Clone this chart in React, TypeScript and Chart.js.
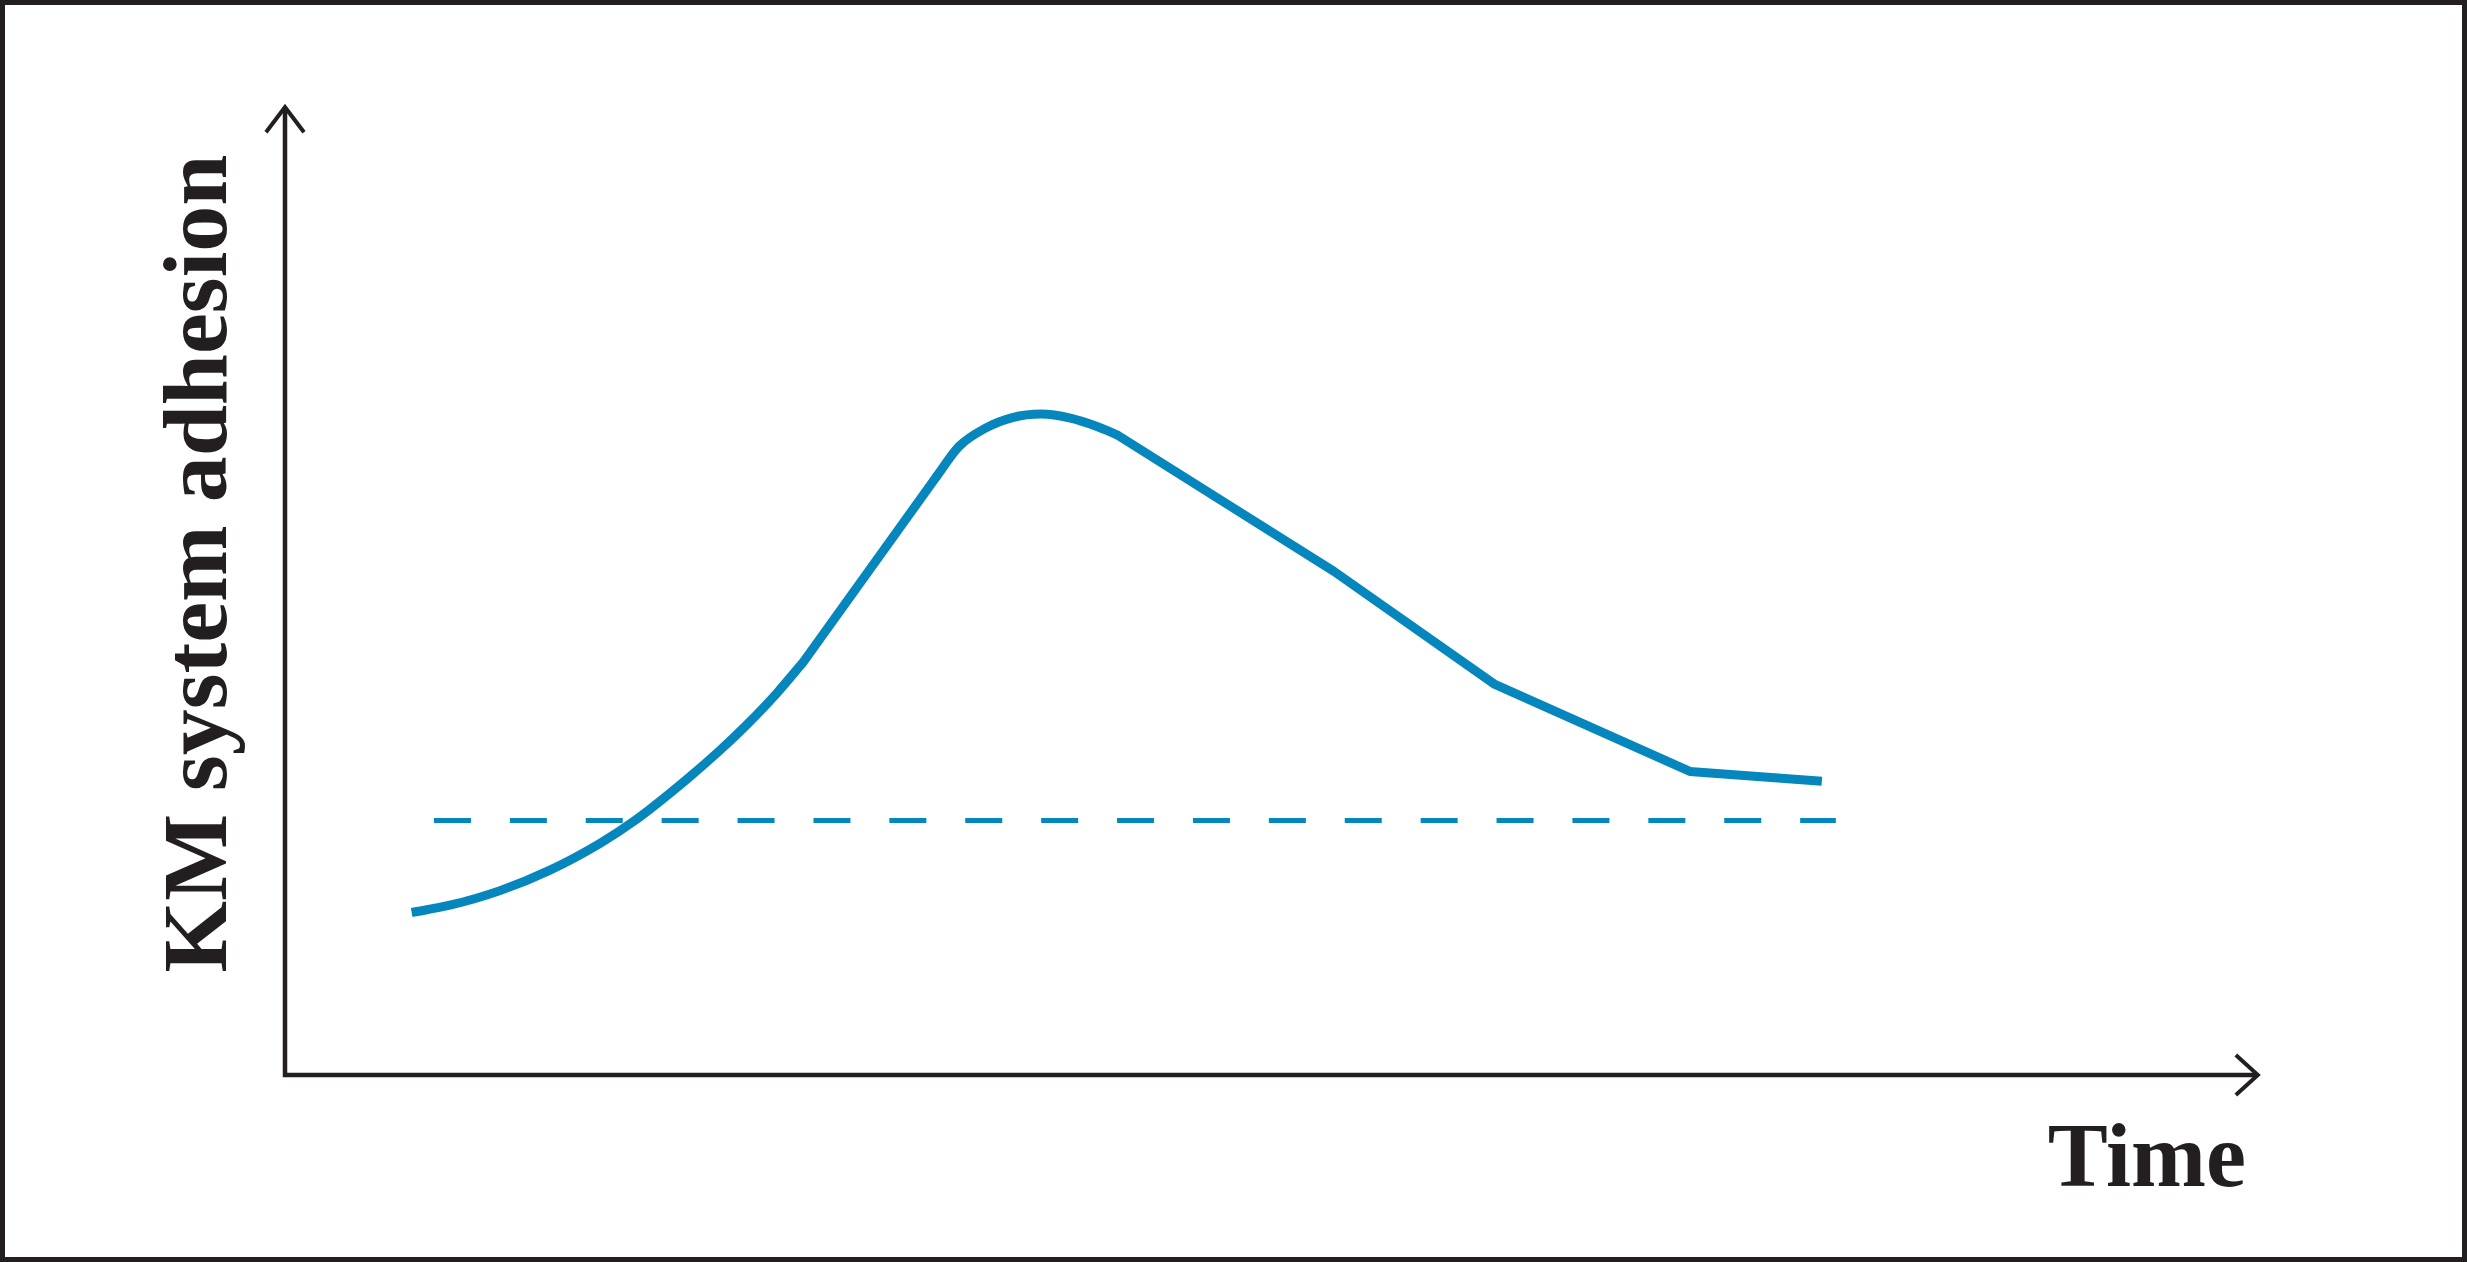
import React, { useEffect, useRef } from "react";
import { Chart, registerables } from "chart.js";

Chart.register(...registerables);

// ---- data ----
const curveTime = [
  6.42, 8.36, 10.9, 13.43, 15.97, 17.74, 20.37, 22.05, 23.47, 24.94, 26.25,
  33.03, 34.16, 35.51, 36.87, 38.34, 39.81, 41.16, 42.17,
  53.17, 61.33, 71.21, 77.9,
];
const curveAdhesion = [
  16.79, 17.54, 19.05, 21.17, 23.94, 26.3, 30.56, 33.55, 36.32, 39.48, 42.62,
  61.85, 64.94, 66.84, 67.93, 68.29, 67.87, 67.01, 66.15,
  52.04, 40.35, 31.37, 30.34,
];
// pieces of the curve: [first index, last index, smooth?]
const curvePieces: [number, number, boolean][] = [
  [0, 10, true],
  [10, 11, false],
  [11, 18, true],
  [18, 22, false],
];
const baselineTime = [7.55, 78.61];
const baselineAdhesion = [26.3, 26.3];

const xTitle = "Time";
const yTitle = "KM system adhesion";

const X_MIN = 0;
const X_MAX = 99.4;
const X_ARROW = 100;
const Y_MIN = 0;
const Y_MAX = 105.7;
const Y_ARROW = 100;

const LINE_COLOR = "#0586bd";
const INK = "#231f20";
const FONT_FAMILY = '"Liberation Serif", "Times New Roman", Times, serif';

const CANVAS_W = 2457;
const CANVAS_H = 1252;

const arrowAxesPlugin = {
  id: "arrowAxes",
  beforeDatasetsDraw(chart: any) {
    const { ctx, scales } = chart;
    const xs = scales.x;
    const ys = scales.y;
    const ox = xs.getPixelForValue(X_MIN);
    const oy = ys.getPixelForValue(Y_MIN);
    const tipX = xs.getPixelForValue(X_ARROW);
    const tipY = ys.getPixelForValue(Y_ARROW);
    ctx.save();
    ctx.strokeStyle = INK;
    ctx.lineWidth = 4.5;
    ctx.lineJoin = "miter";
    ctx.lineCap = "butt";
    ctx.beginPath();
    ctx.moveTo(ox, tipY);
    ctx.lineTo(ox, oy);
    ctx.lineTo(tipX, oy);
    ctx.stroke();
    ctx.lineWidth = 4;
    ctx.beginPath();
    ctx.moveTo(ox - 19, tipY + 25);
    ctx.lineTo(ox, tipY);
    ctx.lineTo(ox + 19, tipY + 25);
    ctx.stroke();
    ctx.beginPath();
    ctx.moveTo(tipX - 22, oy - 20);
    ctx.lineTo(tipX, oy);
    ctx.lineTo(tipX - 22, oy + 20);
    ctx.stroke();
    ctx.restore();
  },
};

export default function App() {
  const canvasRef = useRef<HTMLCanvasElement | null>(null);

  useEffect(() => {
    let chart: Chart | null = null;
    let cancelled = false;

    const build = () => {
      if (cancelled || !canvasRef.current) return;
      const curveSets = curvePieces.map(([a, b, smooth], k) => {
        const pts = [];
        for (let i = a; i <= b; i++) pts.push({ x: curveTime[i], y: curveAdhesion[i] });
        return {
          label: "KM system adhesion " + k,
          data: pts,
          borderColor: LINE_COLOR,
          borderWidth: 9,
          tension: smooth ? 0.4 : 0,
          cubicInterpolationMode: smooth ? "monotone" : "default",
          pointRadius: 0,
          fill: false,
          borderJoinStyle: "round",
          borderCapStyle: k === 0 || k === curvePieces.length - 1 ? "butt" : "round",
        };
      });
      const baseline = baselineTime.map((t, i) => ({ x: t, y: baselineAdhesion[i] }));
      chart = new Chart(canvasRef.current, {
        type: "line",
        data: {
          datasets: [
            ...curveSets,
            {
              label: "Reference level",
              data: baseline,
              borderColor: LINE_COLOR,
              borderWidth: 5,
              borderDash: [37, 38.9],
              pointRadius: 0,
              fill: false,
              borderCapStyle: "butt",
            },
          ],
        },
        options: {
          responsive: false,
          animation: false,
          devicePixelRatio: 1,
          layout: { padding: { left: 0, right: 216, top: 47, bottom: 0 } },
          plugins: {
            legend: { display: false },
            tooltip: { enabled: false },
            title: { display: false },
          },
          scales: {
            x: {
              type: "linear",
              min: X_MIN,
              max: X_MAX,
              grid: { display: false, drawTicks: false },
              border: { display: false },
              ticks: { display: false },
              title: {
                display: true,
                text: xTitle,
                align: "end",
                color: INK,
                font: { family: FONT_FAMILY, size: 90, weight: "bold", lineHeight: 1.2 },
                padding: { top: 34, bottom: 40 },
              },
            },
            y: {
              type: "linear",
              min: Y_MIN,
              max: Y_MAX,
              grid: { display: false, drawTicks: false },
              border: { display: false },
              ticks: { display: false },
              title: {
                display: true,
                text: yTitle,
                align: "center",
                color: INK,
                font: { family: FONT_FAMILY, size: 92, weight: "bold", lineHeight: 1.2 },
                padding: { top: 142, bottom: 27.6 },
              },
            },
          },
        } as any,
        plugins: [arrowAxesPlugin],
      });
    };

    const fonts: any = (document as any).fonts;
    if (fonts && fonts.load) {
      Promise.all([
        fonts.load('bold 92px "Liberation Serif"'),
        fonts.load('bold 90px "Liberation Serif"'),
      ])
        .catch(() => null)
        .then(build);
    } else {
      build();
    }

    return () => {
      cancelled = true;
      if (chart) chart.destroy();
    };
  }, []);

  return (
    <div
      style={{
        position: "fixed",
        left: 0,
        top: 0,
        width: 2467,
        height: 1262,
        boxSizing: "border-box",
        border: `5px solid ${INK}`,
        background: "#ffffff",
        overflow: "hidden",
        fontFamily: FONT_FAMILY,
      }}
    >
      <canvas
        ref={canvasRef}
        width={CANVAS_W}
        height={CANVAS_H}
        style={{ display: "block", width: CANVAS_W, height: CANVAS_H }}
      />
    </div>
  );
}
